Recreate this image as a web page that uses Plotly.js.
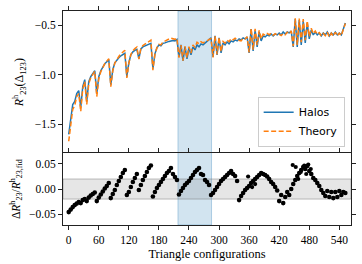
<!DOCTYPE html>
<html>
<head>
<meta charset="utf-8">
<script src="https://cdn.plot.ly/plotly-3.0.1.min.js"></script>
<style>html,body{margin:0;padding:0;background:#fff;}#chart{width:362px;height:264px;}</style>
</head>
<body>
<div id="chart"></div>
<script>
// Triangle configuration indices (sampled every 4th configuration)
const configStep = 4;
const nConfigs = 139;
const configs = Array.from({length: nConfigs}, (_, i) => i * configStep);

// R^h_23 measured from halos
const halos = [
  -1.60, -1.44, -1.30, -1.27, -1.19, -1.16, -1.33, -1.12, -1.05, -1.27,
  -1.07, -1.02, -0.99, -0.96, -1.19, -1.02, -0.96, -0.92, -0.89, -0.87,
  -0.85, -1.10, -0.95, -0.88, -0.85, -0.83, -0.81, -0.80, -0.785, -1.02,
  -0.88, -0.80, -0.77, -0.755, -0.745, -0.84, -0.74, -0.72, -0.71, -0.70,
  -0.69, -0.685, -0.94, -0.79, -0.73, -0.70, -0.71, -0.685, -0.68, -0.67,
  -0.665, -0.66, -0.655, -0.66, -0.645, -0.82, -0.70, -0.86, -0.72, -0.84,
  -0.73, -0.80, -0.72, -0.75, -0.70, -0.72, -0.69, -0.70, -0.68, -0.67,
  -0.65, -0.63, -0.82, -0.61, -0.80, -0.63, -0.78, -0.68, -0.70, -0.67,
  -0.69, -0.66, -0.67, -0.65, -0.66, -0.64, -0.65, -0.63, -0.64, -0.62,
  -0.78, -0.54, -0.76, -0.55, -0.72, -0.57, -0.66, -0.61, -0.62, -0.60,
  -0.61, -0.59, -0.61, -0.59, -0.60, -0.58, -0.60, -0.57, -0.59, -0.57,
  -0.58, -0.56, -0.72, -0.44, -0.72, -0.45, -0.70, -0.46, -0.68, -0.48,
  -0.64, -0.55, -0.60, -0.57, -0.60, -0.58, -0.61, -0.58, -0.60, -0.57,
  -0.61, -0.58, -0.60, -0.57, -0.60, -0.58, -0.60, -0.54, -0.48
];

// R^h_23 theory prediction
const theory = [
  -1.67, -1.50, -1.35, -1.31, -1.22, -1.19, -1.37, -1.145, -1.07, -1.30,
  -1.09, -1.03, -1.00, -0.967, -1.22, -1.04, -0.97, -0.925, -0.889, -0.865,
  -0.84, -1.12, -0.96, -0.882, -0.843, -0.817, -0.79, -0.774, -0.755, -1.032,
  -0.885, -0.797, -0.759, -0.738, -0.723, -0.842, -0.734, -0.707, -0.692, -0.676,
  -0.661, -0.653, -0.954, -0.795, -0.729, -0.694, -0.70, -0.671, -0.662, -0.649,
  -0.641, -0.632, -0.635, -0.644, -0.633, -0.829, -0.703, -0.858, -0.714, -0.83,
  -0.718, -0.782, -0.70, -0.725, -0.673, -0.69, -0.669, -0.68, -0.668, -0.661,
  -0.645, -0.638, -0.827, -0.611, -0.797, -0.624, -0.768, -0.666, -0.683, -0.651,
  -0.668, -0.636, -0.65, -0.633, -0.649, -0.654, -0.659, -0.635, -0.641, -0.619,
  -0.775, -0.534, -0.748, -0.539, -0.703, -0.554, -0.639, -0.592, -0.603, -0.585,
  -0.598, -0.582, -0.604, -0.588, -0.602, -0.594, -0.607, -0.586, -0.599, -0.573,
  -0.587, -0.56, -0.713, -0.432, -0.701, -0.436, -0.673, -0.44, -0.653, -0.458,
  -0.617, -0.534, -0.587, -0.56, -0.593, -0.577, -0.611, -0.585, -0.608, -0.572,
  -0.62, -0.583, -0.611, -0.573, -0.61, -0.582, -0.607, -0.543, -0.484
];

// Relative residual Delta R / R_fid
const residual = [
  -0.046, -0.041, -0.036, -0.032, -0.029, -0.026, -0.028, -0.022, -0.020, -0.024,
  -0.017, -0.013, -0.010, -0.007, -0.024, -0.017, -0.011, -0.005, 0.001, 0.006,
  0.012, -0.018, -0.010, -0.002, 0.008, 0.016, 0.024, 0.032, 0.038, -0.012,
  -0.006, 0.004, 0.014, 0.022, 0.030, -0.002, 0.008, 0.018, 0.026, 0.034,
  0.042, 0.047, -0.015, -0.006, 0.002, 0.008, 0.014, 0.020, 0.026, 0.032,
  0.036, 0.042, 0.030, 0.024, 0.018, -0.011, -0.004, 0.002, 0.008, 0.012,
  0.016, 0.022, 0.028, 0.034, 0.038, 0.042, 0.030, 0.028, 0.018, 0.014,
  0.008, -0.012, -0.008, -0.002, 0.004, 0.010, 0.016, 0.020, 0.024, 0.028,
  0.032, 0.036, 0.030, 0.026, 0.016, -0.022, -0.014, -0.008, -0.002, 0.002,
  0.006, 0.012, 0.016, 0.020, 0.024, 0.028, 0.032, 0.030, 0.028, 0.025,
  0.020, 0.014, 0.010, 0.004, -0.003, -0.024, -0.012, -0.028, -0.016, -0.006,
  -0.012, 0.000, 0.010, 0.018, 0.026, 0.032, 0.038, 0.044, 0.040, 0.046,
  0.036, 0.030, 0.022, 0.018, 0.012, 0.006, -0.002, -0.008, -0.014, -0.004,
  -0.016, -0.006, -0.018, -0.006, -0.016, -0.004, -0.012, -0.006, -0.008
];

// A few scattered residual points in the noisy groups
const extraConfigs = [358, 366, 372, 447, 453, 458, 463, 470, 474, 478, 483];
const extraResidual = [0.025, 0.004, 0.010, 0.048, 0.044, 0.020, 0.034, 0.047, 0.030, 0.049, 0.040];

// Highlighted configuration range and tolerance band
const highlightRange = [218, 285];
const toleranceBand = [-0.02, 0.02];
const xTicks = [0, 60, 120, 180, 240, 300, 360, 420, 480, 540];

const font = {family: 'Liberation Serif, DejaVu Serif, serif', size: 11.5, color: '#000'};
const axisCommon = {
  showgrid: false, zeroline: false, showline: true, linecolor: '#222', linewidth: 1,
  ticks: 'outside', ticklen: 4, tickwidth: 1, tickcolor: '#222', mirror: 'ticks'
};

const traces = [
  {x: configs, y: halos, xaxis: 'x2', yaxis: 'y2', type: 'scatter', mode: 'lines', name: 'Halos',
   line: {color: '#1f77b4', width: 1.5}},
  {x: configs, y: theory, xaxis: 'x2', yaxis: 'y2', type: 'scatter', mode: 'lines', name: 'Theory',
   line: {color: '#ff7f0e', width: 1.5, dash: '5px,2.5px'}},
  {x: configs, y: residual, xaxis: 'x', yaxis: 'y', type: 'scatter', mode: 'markers', showlegend: false,
   marker: {color: '#000', size: 4.6}},
  {x: extraConfigs, y: extraResidual, xaxis: 'x', yaxis: 'y', type: 'scatter', mode: 'markers', showlegend: false,
   marker: {color: '#000', size: 4.2}}
];

const xRange = [-11.4, 563.3];
const split = 0.3346;

const layout = {
  width: 362, height: 264,
  margin: {l: 63, r: 11, t: 11, b: 39},
  paper_bgcolor: '#fff', plot_bgcolor: '#fff',
  font: font,
  showlegend: true,
  legend: {x: 0.978, y: 0.366, xanchor: 'right', yanchor: 'bottom',
           bgcolor: 'rgba(255,255,255,0.85)', bordercolor: '#cccccc', borderwidth: 1,
           font: {family: 'DejaVu Sans, sans-serif', size: 11, color: '#000'}, itemwidth: 30, tracegroupgap: 0},
  xaxis: Object.assign({}, axisCommon, {
    domain: [0, 1], anchor: 'y', range: xRange, tickvals: xTicks,
    title: {text: 'Triangle configurations', font: {family: font.family, size: 12.5, color: '#000'}, standoff: 4}
  }),
  xaxis2: Object.assign({}, axisCommon, {
    domain: [0, 1], anchor: 'y2', matches: 'x', range: xRange, side: 'top', mirror: false,
    showticklabels: false, tickvals: xTicks
  }),
  yaxis: Object.assign({}, axisCommon, {
    domain: [0, split], anchor: 'x', range: [-0.0717, 0.0711], tickvals: [-0.05, 0, 0.05], tickformat: '.2f',
    title: {text: 'Δ<i>R</i><sup>h</sup><sub>23</sub>/<i>R</i><sup>h</sup><sub>23,fid</sub>',
            font: {family: font.family, size: 11.5, color: '#000'}, standoff: 6}
  }),
  yaxis2: Object.assign({}, axisCommon, {
    domain: [split, 1], anchor: 'x2', range: [-1.792, -0.359], tickvals: [-1.5, -1.0, -0.5], tickformat: '.1f',
    title: {text: '<i>R</i><sup>h</sup><sub>23</sub>(Δ<sub>123</sub>)',
            font: {family: font.family, size: 12, color: '#000'}, standoff: 8}
  }),
  shapes: [
    {type: 'rect', xref: 'x', yref: 'paper', x0: highlightRange[0], x1: highlightRange[1], y0: 0, y1: 1,
     fillcolor: 'rgba(31,119,180,0.2)', line: {color: 'rgba(31,119,180,0.3)', width: 1}, layer: 'below'},
    {type: 'rect', xref: 'paper', yref: 'y', x0: 0, x1: 1, y0: toleranceBand[0], y1: toleranceBand[1],
     fillcolor: 'rgba(128,128,128,0.2)', line: {color: 'rgba(110,110,110,0.45)', width: 1}, layer: 'below'}
  ]
};

Plotly.newPlot('chart', traces, layout, {staticPlot: true, displayModeBar: false});
</script>
</body>
</html>
